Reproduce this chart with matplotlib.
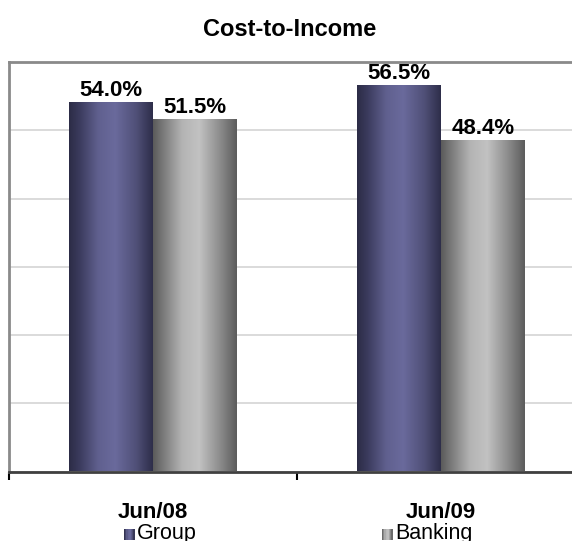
import numpy as np
import matplotlib
matplotlib.use("Agg")
import matplotlib.pyplot as plt
from matplotlib.patches import Rectangle
from matplotlib.colors import LinearSegmentedColormap
from matplotlib.legend_handler import HandlerBase

plt.rcParams['font.family'] = ['Liberation Sans', 'DejaVu Sans']

periods = ['Jun/08', 'Jun/09']
group = [54.0, 56.5]
banking = [51.5, 48.4]
series_names = ['Group', 'Banking']

# horizontal shading across each bar (left edge -> right edge)
group_cmap = LinearSegmentedColormap.from_list('grp', [
    (0.0, '#2c2c46'), (0.12, '#3a3a5c'), (0.35, '#60608f'),
    (0.55, '#6a6a9c'), (0.8, '#505078'), (1.0, '#2e2e4a')])
bank_cmap = LinearSegmentedColormap.from_list('bnk', [
    (0.0, '#5a5a5a'), (0.12, '#7a7a7a'), (0.35, '#b4b4b4'),
    (0.55, '#c2c2c2'), (0.8, '#8c8c8c'), (1.0, '#5c5c5c')])
shade = np.linspace(0, 1, 256).reshape(1, -1)

fig = plt.figure(figsize=(5.72, 5.41), dpi=100)
ax = fig.add_axes([9 / 572, 69.5 / 541, 576 / 572, 409.5 / 541])

x = np.arange(len(periods))
w = 0.29
bars_g = ax.bar(x - w, group, w, align='edge', color='none', zorder=3)
bars_b = ax.bar(x, banking, w, align='edge', color='none', zorder=3)

for bars, cmap in ((bars_g, group_cmap), (bars_b, bank_cmap)):
    for b in bars:
        x0, h = b.get_x(), b.get_height()
        ax.imshow(shade, cmap=cmap, aspect='auto', zorder=3,
                  extent=(x0, x0 + b.get_width(), 0, h))
        ax.annotate(f'{h:.1f}%', (x0 + b.get_width() / 2, h),
                    xytext=(0, 1.5), textcoords='offset points',
                    ha='center', va='bottom', fontsize=16, fontweight='bold')
ax.set_xlim(-0.5, 1.5)
ax.set_ylim(0, 60)

# gridlines, no value axis labels
ax.set_yticks(np.arange(0, 61, 10))
ax.tick_params(axis='y', length=0, labelleft=False)
ax.yaxis.grid(True, color='#d4d4d4', linewidth=1.2)
ax.set_axisbelow(True)

ax.set_xticks([-0.5, 0.5, 1.5])
ax.set_xticklabels([])
ax.tick_params(axis='x', which='major', direction='out', length=6,
               width=1.5, color='#000000')
ax.set_xticks(x, minor=True)
ax.set_xticklabels(periods, minor=True, fontsize=16, fontweight='bold')
ax.tick_params(axis='x', which='minor', length=0, pad=22)

for side in ('left', 'top', 'right'):
    ax.spines[side].set_color('#8a8a8a')
    ax.spines[side].set_linewidth(2)
ax.spines['bottom'].set_color('#404040')
ax.spines['bottom'].set_linewidth(2)

fig.text(290 / 572, 1 - 29 / 541, 'Cost-to-Income', ha='center', va='center',
         fontsize=17, fontweight='bold')


class GradientHandler(HandlerBase):
    def __init__(self, cmap):
        super().__init__()
        self.cmap = cmap

    def create_artists(self, legend, orig_handle, xdescent, ydescent,
                       width, height, fontsize, trans):
        n = 8
        side = height * 0.75
        x0 = width - side - xdescent
        y0 = -ydescent + (height - side) / 2 - 2
        arts = []
        for i in range(n):
            r = Rectangle((x0 + side * i / n, y0), side / n, side,
                          facecolor=self.cmap((i + 0.5) / n),
                          edgecolor='none', transform=trans)
            arts.append(r)
        return arts


h_g = Rectangle((0, 0), 1, 1)
h_b = Rectangle((0, 0), 1, 1)
fig.legend([h_g, h_b], series_names, loc='center',
           bbox_to_anchor=(295 / 572, 1 - 534 / 541), ncol=2, frameon=False,
           fontsize=15.5, columnspacing=8.3, handlelength=0.8,
           handletextpad=0.1,
           handler_map={h_g: GradientHandler(group_cmap),
                        h_b: GradientHandler(bank_cmap)})

fig.savefig('out.png', dpi=100)
